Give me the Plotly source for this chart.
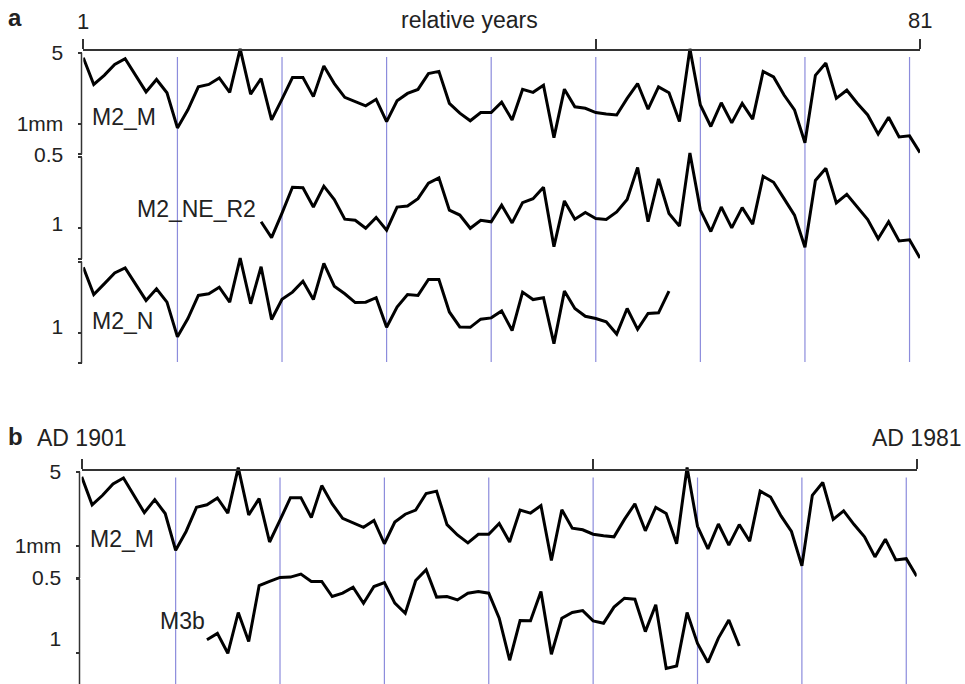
import numpy as np
import plotly.graph_objects as go

W, H = 965, 684

# ---------------- data (ring widths, mm) ----------------
years = list(range(1, 82))
m2_m = [4.47, 2.44, 3.00, 3.84, 4.37, 3.00, 2.06, 2.73, 2.02, 0.91,
        1.37, 2.31, 2.44, 2.83, 2.04, 5.47, 1.96, 2.79, 1.09, 1.75,
        2.85, 2.85, 1.85, 3.70, 2.49, 1.82, 1.65, 1.50, 1.74, 1.05,
        1.68, 1.99, 2.18, 3.12, 3.28, 1.59, 1.27, 1.07, 1.29, 1.29,
        1.63, 1.09, 2.18, 2.04, 2.40, 0.73, 2.19, 1.47, 1.42, 1.29,
        1.25, 1.22, 1.78, 2.49, 1.39, 2.31, 2.02, 1.05, 5.47, 1.53,
        0.94, 1.61, 1.02, 1.59, 1.11, 3.28, 2.89, 1.92, 1.37, 0.65,
        3.00, 3.96, 1.78, 2.14, 1.59, 1.22, 0.79, 1.16, 0.74, 0.76,
        0.52]

ne_years = list(range(18, 82))
m2_ne_r2 = [1.16, 0.81, 1.41,
            2.54, 2.51, 1.62, 2.60, 1.92, 1.23, 1.20, 1.00, 1.28, 0.96,
            1.62, 1.66, 1.96, 2.78, 3.14, 1.51, 1.35, 1.00, 1.20, 1.16,
            1.69, 1.13, 1.79, 1.96, 2.54, 0.66, 1.86, 1.23, 1.43, 1.25,
            1.22, 1.45, 1.92, 3.98, 1.16, 3.07, 1.40, 1.05, 5.51, 1.51,
            0.93, 1.62, 1.01, 1.60, 1.10, 3.26, 2.84, 1.96, 1.35, 0.65,
            2.96, 3.90, 1.78, 2.16, 1.62, 1.22, 0.79, 1.16, 0.75, 0.77,
            0.51]

n_years = list(range(1, 58))
m2_n = [4.40, 2.38, 3.03, 3.88, 4.34, 3.03, 2.08, 2.71, 2.00, 0.91,
        1.38, 2.33, 2.42, 2.81, 2.00, 5.43, 1.93, 4.47, 1.35, 2.13,
        2.51, 3.21, 2.12, 4.81, 2.87, 2.42, 1.98, 2.00, 2.21, 1.13,
        1.79, 2.38, 2.33, 3.34, 3.34, 1.60, 1.14, 1.13, 1.36, 1.40,
        1.64, 1.05, 2.51, 2.12, 2.21, 0.78, 2.57, 1.73, 1.45, 1.38,
        1.28, 0.97, 1.73, 1.08, 1.55, 1.57, 2.57]

m3b_years = list(range(13, 65))
m3b = [1.34, 1.54, 1.00, 2.42, 1.29, 4.34, 4.74, 5.17,
       5.21, 5.56, 4.74, 4.74, 3.42, 3.68, 4.19, 2.96, 4.25, 4.63,
       2.96, 2.38, 4.84, 6.11, 3.38, 3.42, 3.18, 3.68, 3.81, 3.68,
       2.14, 0.86, 2.03, 2.02, 3.81, 0.98, 2.14, 2.42, 2.52, 2.02,
       1.92, 2.72, 3.30, 3.23, 1.60, 2.86, 0.72, 0.76, 2.42, 1.24,
       0.82, 1.39, 2.06, 1.17]

decade_years = [10, 20, 30, 40, 50, 60, 70, 80]
top_ticks = [1, 50, 81]
track_ticks = [5, 1, 0.5]

# ---------------- geometry helpers ----------------
def py(p):
    return 1 - p / H

FONT = "Liberation Sans, Arial, sans-serif"
BLUE = "rgb(140,140,220)"
AXC = "#333333"

A_TOP, A_BOT = 25, 375
B_TOP, B_BOT = 452, 684
DA, DB = 101.5, 106.3
REF = {"a1": 123.75, "a2": 228.3, "a3": 332.7, "b1": 546.0, "b2": 653.3}
AX_A, AX_B = 81.5, 79.5


def yrange(ref, top, bot, d):
    return [-(bot - ref) / d, (ref - top) / d]


def vpx(v, ref, d):
    return ref - np.log10(v) * d


fig = go.Figure()

series = [
    (years, m2_m, "x", "y"),
    (ne_years, m2_ne_r2, "x", "y2"),
    (n_years, m2_n, "x", "y3"),
    (years, m2_m, "x2", "y4"),
    (m3b_years, m3b, "x2", "y5"),
]
for xs, ys, xa, ya in series:
    fig.add_trace(go.Scatter(x=xs, y=ys, xaxis=xa, yaxis=ya, mode="lines",
                             line=dict(color="black", width=3),
                             hoverinfo="skip", showlegend=False))

tickbase = dict(type="log", tickmode="array", tickvals=track_ticks, ticks="outside",
                ticklen=4, tickwidth=1.5, tickcolor=AXC, showgrid=False,
                zeroline=False, showline=False, anchor="free", side="left",
                tickfont=dict(family=FONT, size=21, color="#222"),
                ticklabelstandoff=10, fixedrange=True)

xbase = dict(range=[1, 81], anchor="free", side="top", showline=True,
             linewidth=1.5, linecolor=AXC, ticks="outside", ticklen=10,
             tickwidth=1.5, tickcolor=AXC, tickmode="array", tickvals=top_ticks,
             showticklabels=False, showgrid=False, zeroline=False, fixedrange=True)

fig.update_layout(
    width=W, height=H, margin=dict(l=0, r=0, t=0, b=0),
    paper_bgcolor="white", plot_bgcolor="rgba(0,0,0,0)",
    xaxis=dict(xbase, domain=[83.3 / W, 920 / W], position=py(50)),
    xaxis2=dict(xbase, domain=[81.7 / W, 916.7 / W], position=py(470)),
    yaxis=dict(tickbase, domain=[py(A_BOT), py(A_TOP)],
               range=yrange(REF["a1"], A_TOP, A_BOT, DA),
               ticktext=["5", "1mm", "0.5"], position=AX_A / W),
    yaxis2=dict(tickbase, overlaying="y", range=yrange(REF["a2"], A_TOP, A_BOT, DA),
                ticktext=["", "1", ""], ticklabelshift=-5, position=AX_A / W),
    yaxis3=dict(tickbase, overlaying="y", range=yrange(REF["a3"], A_TOP, A_BOT, DA),
                ticktext=["", "1", ""], ticklabelshift=-6, position=AX_A / W),
    yaxis4=dict(tickbase, domain=[py(B_BOT), py(B_TOP)],
                range=yrange(REF["b1"], B_TOP, B_BOT, DB),
                ticktext=["5", "1mm", "0.5"], position=AX_B / W),
    yaxis5=dict(tickbase, overlaying="y4", range=yrange(REF["b2"], B_TOP, B_BOT, DB),
                ticktext=["", "1", ""], ticklabelshift=-15, position=AX_B / W),
)

shapes = []
# decade reference lines
for yr in decade_years:
    shapes.append(dict(type="line", xref="x", yref="paper", x0=yr, x1=yr,
                       y0=py(57), y1=py(362), line=dict(color=BLUE, width=1.2),
                       layer="below"))
    shapes.append(dict(type="line", xref="x2", yref="paper", x0=yr, x1=yr,
                       y0=py(477.5), y1=py(684), line=dict(color=BLUE, width=1.2),
                       layer="below"))
# track axis segments (from 5 to 0.5 of each track)
for key, d, xpos, lo in [("a1", DA, AX_A, A_BOT), ("a2", DA, AX_A, A_BOT),
                         ("a3", DA, AX_A, A_BOT), ("b1", DB, AX_B, B_BOT),
                         ("b2", DB, AX_B, B_BOT)]:
    top = vpx(5, REF[key], d)
    bot = min(vpx(0.5, REF[key], d), lo)
    shapes.append(dict(type="line", xref="paper", yref="paper",
                       x0=xpos / W, x1=xpos / W, y0=py(top), y1=py(bot),
                       line=dict(color=AXC, width=1.5)))
fig.update_layout(shapes=shapes)

ann = []


def label(text, x, y, size=23, xanchor="left", xref="paper", bold=False):
    ann.append(dict(text=f"<b>{text}</b>" if bold else text,
                    x=x if xref != "paper" else x / W, xref=xref,
                    y=py(y), yref="paper", xanchor=xanchor, yanchor="middle",
                    showarrow=False, font=dict(family=FONT, size=size, color="#222")))


label("M2_M", 90, 117)
label("M2_NE_R2", 135, 208.5)
label("M2_N", 90, 320.5)
label("M2_M", 88, 539)
label("M3b", 158, 621)
label("a", 6, 17.5, size=24, bold=True)
label("b", 6, 437, size=24, bold=True)
label("1", 1, 21.5, size=22, xanchor="center", xref="x")
label("81", 81, 20.5, size=22, xanchor="center", xref="x")
label("relative years", 469, 20.5, size=23, xanchor="center")
label("AD 1901", 1, 437.5, size=23, xanchor="center", xref="x2")
label("AD 1981", 81, 438, size=23, xanchor="center", xref="x2")
fig.update_layout(annotations=ann)

fig.write_html("out.html", config={"displayModeBar": False},
               post_script="document.body.style.margin='0px';"
                           "document.body.style.overflow='hidden';")
